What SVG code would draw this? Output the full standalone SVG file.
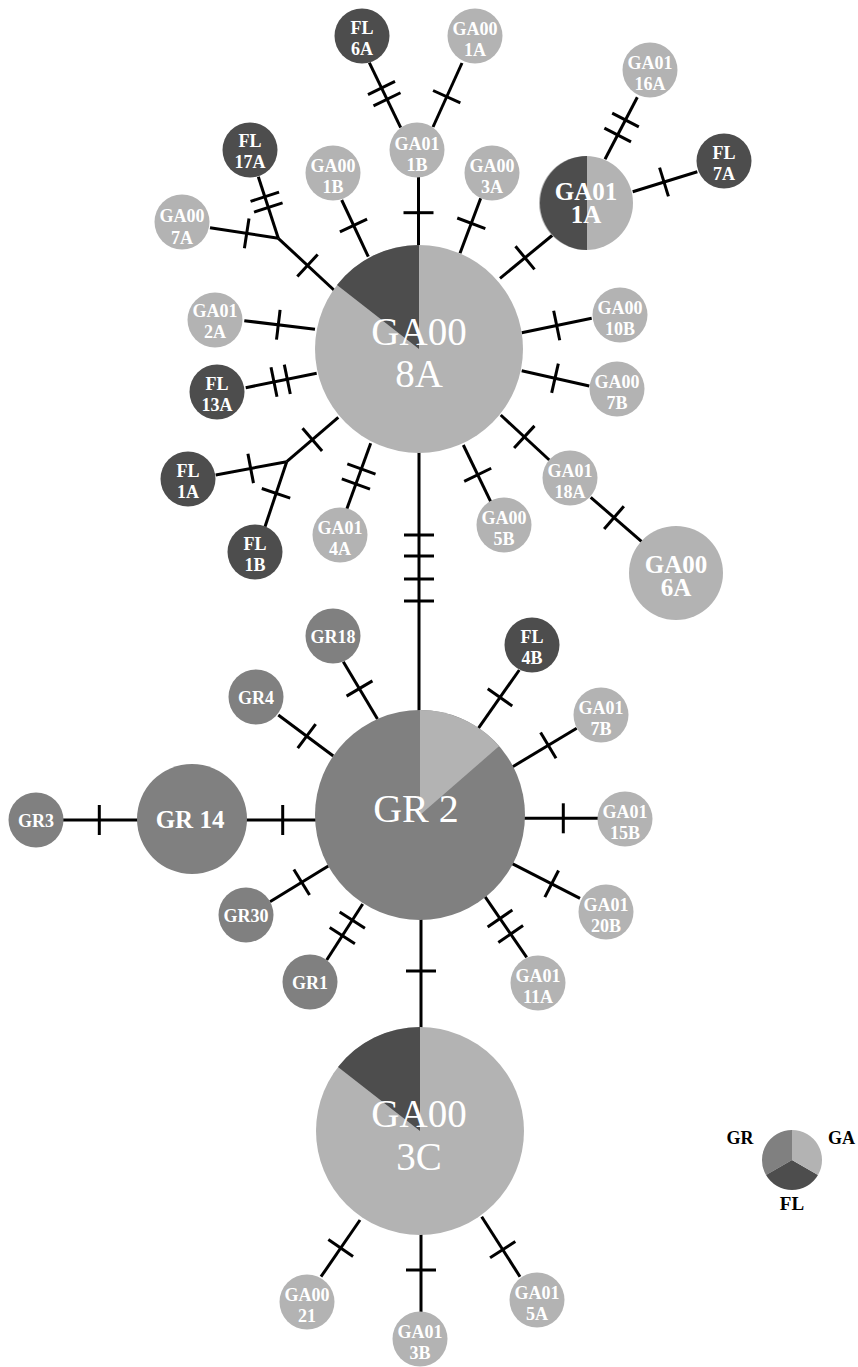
<svg xmlns="http://www.w3.org/2000/svg" xmlns:xlink="http://www.w3.org/1999/xlink" width="858" height="1367" viewBox="0 0 858 1367">
<style>
.ln{stroke:#000;stroke-width:3;fill:none}
.ga{fill:#b3b3b3}
.gr{fill:#808080}
.fl{fill:#4d4d4d}
.t{font-family:"Liberation Serif","Times New Roman",serif;font-weight:bold;font-size:18px;fill:#fff;text-anchor:middle}
.m{font-size:25px}
.b{font-weight:normal;font-size:39px}
.lg{font-family:"Liberation Serif","Times New Roman",serif;font-weight:bold;font-size:18px;fill:#000}
</style>
<defs>
<line id="tk" x1="0" y1="-15" x2="0" y2="15" stroke="#000" stroke-width="3"/>
</defs>
<rect width="858" height="1367" fill="#fff"/>
<g id="connectors">
<line class="ln" x1="400.7" y1="127.7" x2="369.3" y2="62.7"/>
<use xlink:href="#tk" href="#tk" transform="translate(381.5 88) rotate(-115.8)"/>
<use xlink:href="#tk" href="#tk" transform="translate(387 99.3) rotate(-115.8)"/>
<line class="ln" x1="433" y1="127" x2="462" y2="63"/>
<use xlink:href="#tk" href="#tk" transform="translate(446.7 96.7) rotate(-65.6)"/>
<line class="ln" x1="418.5" y1="177" x2="418.5" y2="246"/>
<use xlink:href="#tk" href="#tk" transform="translate(418.5 212.7) rotate(90)"/>
<line class="ln" x1="258.3" y1="176.7" x2="278.3" y2="238.3"/>
<use xlink:href="#tk" href="#tk" transform="translate(264.8 196.7) rotate(72)"/>
<use xlink:href="#tk" href="#tk" transform="translate(268.3 207.5) rotate(72)"/>
<line class="ln" x1="210" y1="227.7" x2="278.3" y2="238.3"/>
<use xlink:href="#tk" href="#tk" transform="translate(246.7 233.4) rotate(8.8)"/>
<line class="ln" x1="278.3" y1="238.3" x2="335" y2="291"/>
<use xlink:href="#tk" href="#tk" transform="translate(307.5 265.5) rotate(42.8)"/>
<line class="ln" x1="341.7" y1="200" x2="368.3" y2="256.7"/>
<use xlink:href="#tk" href="#tk" transform="translate(353.5 225.5) rotate(64.9)"/>
<line class="ln" x1="480.7" y1="198.3" x2="460" y2="253.3"/>
<use xlink:href="#tk" href="#tk" transform="translate(471.3 223.3) rotate(110.6)"/>
<line class="ln" x1="552.7" y1="235" x2="500" y2="278.3"/>
<use xlink:href="#tk" href="#tk" transform="translate(525 257.8) rotate(140.6)"/>
<line class="ln" x1="605" y1="159.3" x2="637.3" y2="97.3"/>
<use xlink:href="#tk" href="#tk" transform="translate(625.5 120) rotate(-62.5)"/>
<use xlink:href="#tk" href="#tk" transform="translate(617.7 135) rotate(-62.5)"/>
<line class="ln" x1="632.7" y1="191.7" x2="697.3" y2="171.7"/>
<use xlink:href="#tk" href="#tk" transform="translate(664 182) rotate(-17.2)"/>
<line class="ln" x1="244.3" y1="320.7" x2="315" y2="329.3"/>
<use xlink:href="#tk" href="#tk" transform="translate(278.3 324.8) rotate(6.9)"/>
<line class="ln" x1="245.7" y1="387.7" x2="316.7" y2="373.3"/>
<use xlink:href="#tk" href="#tk" transform="translate(274 382) rotate(-11.5)"/>
<use xlink:href="#tk" href="#tk" transform="translate(287.3 379.3) rotate(-11.5)"/>
<line class="ln" x1="215.7" y1="475" x2="286.7" y2="461.7"/>
<use xlink:href="#tk" href="#tk" transform="translate(250.7 468.4) rotate(-10.6)"/>
<line class="ln" x1="265" y1="526.7" x2="286.7" y2="461.7"/>
<use xlink:href="#tk" href="#tk" transform="translate(276 493.3) rotate(-71.5)"/>
<line class="ln" x1="286.7" y1="461.7" x2="338.3" y2="417.3"/>
<use xlink:href="#tk" href="#tk" transform="translate(312.3 439.7) rotate(-40.7)"/>
<line class="ln" x1="346.7" y1="509.3" x2="370.7" y2="443.3"/>
<use xlink:href="#tk" href="#tk" transform="translate(361.4 469) rotate(-70)"/>
<use xlink:href="#tk" href="#tk" transform="translate(355.9 484) rotate(-70)"/>
<line class="ln" x1="521.7" y1="332.7" x2="591.7" y2="318.3"/>
<use xlink:href="#tk" href="#tk" transform="translate(556.7 325.5) rotate(-11.6)"/>
<line class="ln" x1="521.7" y1="370.7" x2="589.3" y2="386"/>
<use xlink:href="#tk" href="#tk" transform="translate(555 378.2) rotate(12.8)"/>
<line class="ln" x1="500.7" y1="415" x2="549.3" y2="460"/>
<use xlink:href="#tk" href="#tk" transform="translate(524.3 436.9) rotate(42.8)"/>
<line class="ln" x1="590.7" y1="497.3" x2="641.7" y2="541.7"/>
<use xlink:href="#tk" href="#tk" transform="translate(614 517.6) rotate(41)"/>
<line class="ln" x1="463.3" y1="445" x2="490.7" y2="501.7"/>
<use xlink:href="#tk" href="#tk" transform="translate(477.7 474.8) rotate(64.2)"/>
<line class="ln" x1="419" y1="452" x2="419" y2="711"/>
<use xlink:href="#tk" href="#tk" transform="translate(419 535) rotate(90)"/>
<use xlink:href="#tk" href="#tk" transform="translate(419 556) rotate(90)"/>
<use xlink:href="#tk" href="#tk" transform="translate(419 579) rotate(90)"/>
<use xlink:href="#tk" href="#tk" transform="translate(419 601) rotate(90)"/>
<line class="ln" x1="343.3" y1="661.7" x2="377.5" y2="719"/>
<use xlink:href="#tk" href="#tk" transform="translate(359.5 688.5) rotate(59.5)"/>
<line class="ln" x1="278.3" y1="715" x2="333.3" y2="756"/>
<use xlink:href="#tk" href="#tk" transform="translate(306.7 736.2) rotate(36.7)"/>
<line class="ln" x1="246" y1="820" x2="316" y2="820"/>
<use xlink:href="#tk" href="#tk" transform="translate(282.7 820)"/>
<line class="ln" x1="63" y1="820" x2="138" y2="820"/>
<use xlink:href="#tk" href="#tk" transform="translate(99.3 820)"/>
<line class="ln" x1="270" y1="901.7" x2="328.3" y2="866"/>
<use xlink:href="#tk" href="#tk" transform="translate(301.7 882.3) rotate(-31.5)"/>
<line class="ln" x1="326.7" y1="960" x2="362.7" y2="904"/>
<use xlink:href="#tk" href="#tk" transform="translate(352.3 920.2) rotate(-57.3)"/>
<use xlink:href="#tk" href="#tk" transform="translate(342.3 935.7) rotate(-57.3)"/>
<line class="ln" x1="519.3" y1="670" x2="478.3" y2="728.3"/>
<use xlink:href="#tk" href="#tk" transform="translate(500 697.4) rotate(125.1)"/>
<line class="ln" x1="576.7" y1="728.3" x2="512.7" y2="766.7"/>
<use xlink:href="#tk" href="#tk" transform="translate(548.3 745.3) rotate(149)"/>
<line class="ln" x1="523.3" y1="818.3" x2="598" y2="818.3"/>
<use xlink:href="#tk" href="#tk" transform="translate(563.3 818.3)"/>
<line class="ln" x1="511.7" y1="863.3" x2="580" y2="898.3"/>
<use xlink:href="#tk" href="#tk" transform="translate(551.7 883.8) rotate(27.1)"/>
<line class="ln" x1="485" y1="896.7" x2="526.7" y2="957.3"/>
<use xlink:href="#tk" href="#tk" transform="translate(500 918.5) rotate(55.5)"/>
<use xlink:href="#tk" href="#tk" transform="translate(510.7 934) rotate(55.5)"/>
<line class="ln" x1="421" y1="918" x2="421" y2="1029"/>
<use xlink:href="#tk" href="#tk" transform="translate(421 971) rotate(90)"/>
<line class="ln" x1="360" y1="1220" x2="321" y2="1276.7"/>
<use xlink:href="#tk" href="#tk" transform="translate(340.7 1248) rotate(124.5)"/>
<line class="ln" x1="421" y1="1234" x2="421" y2="1312"/>
<use xlink:href="#tk" href="#tk" transform="translate(421 1270) rotate(90)"/>
<line class="ln" x1="481.7" y1="1216.7" x2="520" y2="1276.7"/>
<use xlink:href="#tk" href="#tk" transform="translate(502.7 1249.6) rotate(57.4)"/>
</g>
<g id="GA00_8A">
<circle class="ga" cx="419" cy="349" r="104"/>
<path class="fl" d="M419,349 L419,245 A104,104 0 0,0 337,285 Z"/>
<text class="t b" x="419" y="345">GA00<tspan x="419" dy="42">8A</tspan></text>
</g>
<g id="GR_2">
<circle class="gr" cx="420" cy="815" r="105"/>
<path class="ga" d="M420,815 L420,710 A105,105 0 0,1 499.2,746.1 Z"/>
<text class="t b" x="416" y="822" style="font-size:40px">GR 2</text>
</g>
<g id="GA00_3C">
<circle class="ga" cx="420" cy="1131" r="104"/>
<path class="fl" d="M420,1131 L420,1027 A104,104 0 0,0 338,1067 Z"/>
<text class="t b" x="419" y="1127">GA00<tspan x="419" dy="43">3C</tspan></text>
</g>
<g id="GA01_1A">
<circle class="ga" cx="586" cy="203" r="47"/>
<path class="fl" d="M587,156 A47,47 0 0,0 587,250 Z"/>
<text class="t m" x="586" y="200">GA01<tspan x="586" dy="23">1A</tspan></text>
</g>
<g id="GA00_6A">
<circle class="ga" cx="676" cy="573" r="47"/>
<text class="t m" x="676" y="573">GA00<tspan x="676" dy="23">6A</tspan></text>
</g>
<g id="GR_14">
<circle class="gr" cx="192" cy="819" r="55"/>
<text class="t m" x="190" y="828">GR 14</text>
</g>
<g id="FL_6A"><circle class="fl" cx="362" cy="36" r="27.5"/><text class="t" x="362" y="34">FL<tspan x="362" dy="21">6A</tspan></text></g>
<g id="GA00_1A"><circle class="ga" cx="475" cy="36" r="27.5"/><text class="t" x="475" y="35">GA00<tspan x="475" dy="21">1A</tspan></text></g>
<g id="GA01_1B"><circle class="ga" cx="417" cy="150" r="27.5"/><text class="t" x="417" y="150">GA01<tspan x="417" dy="21">1B</tspan></text></g>
<g id="FL_17A"><circle class="fl" cx="250" cy="150" r="27.5"/><text class="t" x="250" y="147">FL<tspan x="250" dy="21">17A</tspan></text></g>
<g id="GA00_1B"><circle class="ga" cx="333" cy="173" r="27.5"/><text class="t" x="333" y="172">GA00<tspan x="333" dy="21">1B</tspan></text></g>
<g id="GA00_7A"><circle class="ga" cx="182" cy="222" r="27.5"/><text class="t" x="182" y="222">GA00<tspan x="182" dy="22">7A</tspan></text></g>
<g id="GA00_3A"><circle class="ga" cx="492" cy="173" r="27.5"/><text class="t" x="492" y="172">GA00<tspan x="492" dy="21">3A</tspan></text></g>
<g id="GA01_16A"><circle class="ga" cx="650" cy="70" r="27.5"/><text class="t" x="650" y="69">GA01<tspan x="650" dy="21">16A</tspan></text></g>
<g id="FL_7A"><circle class="fl" cx="724" cy="161" r="27.5"/><text class="t" x="724" y="159">FL<tspan x="724" dy="21">7A</tspan></text></g>
<g id="GA01_2A"><circle class="ga" cx="215" cy="320" r="27.5"/><text class="t" x="215" y="317">GA01<tspan x="215" dy="21">2A</tspan></text></g>
<g id="FL_13A"><circle class="fl" cx="217" cy="392" r="27.5"/><text class="t" x="217" y="390">FL<tspan x="217" dy="21">13A</tspan></text></g>
<g id="FL_1A"><circle class="fl" cx="188" cy="479" r="27.5"/><text class="t" x="188" y="477">FL<tspan x="188" dy="21">1A</tspan></text></g>
<g id="FL_1B"><circle class="fl" cx="255" cy="552" r="27.5"/><text class="t" x="255" y="550">FL<tspan x="255" dy="21">1B</tspan></text></g>
<g id="GA01_4A"><circle class="ga" cx="340" cy="535" r="27.5"/><text class="t" x="340" y="534">GA01<tspan x="340" dy="21">4A</tspan></text></g>
<g id="GA00_10B"><circle class="ga" cx="620" cy="315" r="27.5"/><text class="t" x="620" y="314">GA00<tspan x="620" dy="21">10B</tspan></text></g>
<g id="GA00_7B"><circle class="ga" cx="617" cy="389" r="27.5"/><text class="t" x="617" y="388">GA00<tspan x="617" dy="21">7B</tspan></text></g>
<g id="GA01_18A"><circle class="ga" cx="570" cy="478" r="27.5"/><text class="t" x="570" y="477">GA01<tspan x="570" dy="21">18A</tspan></text></g>
<g id="GA00_5B"><circle class="ga" cx="504" cy="525" r="27.5"/><text class="t" x="504" y="524">GA00<tspan x="504" dy="21">5B</tspan></text></g>
<g id="GR18"><circle class="gr" cx="333" cy="636" r="27.5"/><text class="t" x="333" y="643">GR18</text></g>
<g id="GR4"><circle class="gr" cx="256" cy="697" r="27.5"/><text class="t" x="256" y="704">GR4</text></g>
<g id="GR3"><circle class="gr" cx="36" cy="820" r="27.5"/><text class="t" x="36" y="827">GR3</text></g>
<g id="GR30"><circle class="gr" cx="246" cy="915" r="27.5"/><text class="t" x="246" y="922">GR30</text></g>
<g id="GR1"><circle class="gr" cx="310" cy="982" r="27.5"/><text class="t" x="310" y="989">GR1</text></g>
<g id="FL_4B"><circle class="fl" cx="532" cy="645" r="27.5"/><text class="t" x="532" y="643">FL<tspan x="532" dy="21">4B</tspan></text></g>
<g id="GA01_7B"><circle class="ga" cx="601" cy="715" r="27.5"/><text class="t" x="601" y="714">GA01<tspan x="601" dy="21">7B</tspan></text></g>
<g id="GA01_15B"><circle class="ga" cx="625" cy="819" r="27.5"/><text class="t" x="625" y="818">GA01<tspan x="625" dy="21">15B</tspan></text></g>
<g id="GA01_20B"><circle class="ga" cx="606" cy="912" r="27.5"/><text class="t" x="606" y="911">GA01<tspan x="606" dy="21">20B</tspan></text></g>
<g id="GA01_11A"><circle class="ga" cx="538" cy="983" r="27.5"/><text class="t" x="538" y="982">GA01<tspan x="538" dy="21">11A</tspan></text></g>
<g id="GA00_21"><circle class="ga" cx="307" cy="1302" r="27.5"/><text class="t" x="307" y="1301">GA00<tspan x="307" dy="21">21</tspan></text></g>
<g id="GA01_3B"><circle class="ga" cx="420" cy="1339" r="27.5"/><text class="t" x="420" y="1338">GA01<tspan x="420" dy="21">3B</tspan></text></g>
<g id="GA01_5A"><circle class="ga" cx="537" cy="1300" r="27.5"/><text class="t" x="537" y="1299">GA01<tspan x="537" dy="21">5A</tspan></text></g>
<g id="legend">
<path class="gr" d="M792,1160 L792,1130 A30,30 0 0,0 766,1175 Z"/>
<path class="fl" d="M792,1160 L766,1175 A30,30 0 0,0 818,1175 Z"/>
<path class="ga" d="M792,1160 L818,1175 A30,30 0 0,0 792,1130 Z"/>
<text class="lg" x="740" y="1144" text-anchor="middle">GR</text>
<text class="lg" x="828" y="1144">GA</text>
<text class="lg" x="792" y="1210" text-anchor="middle" style="font-size:19px">FL</text>
</g>
</svg>
